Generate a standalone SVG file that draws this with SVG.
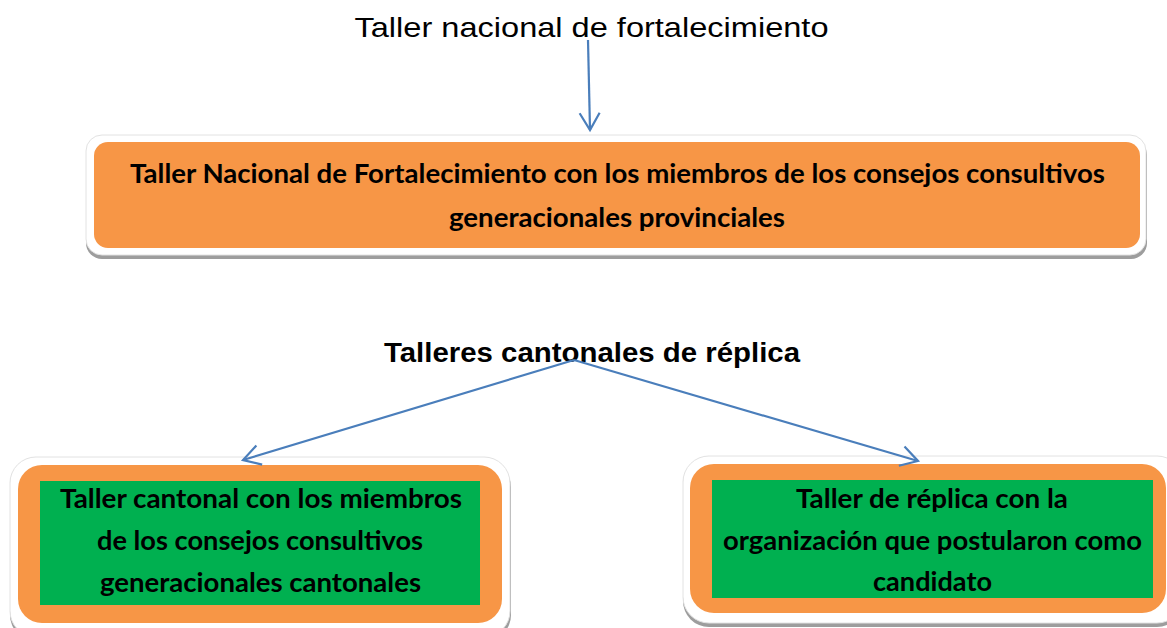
<svg xmlns="http://www.w3.org/2000/svg" width="1167" height="628" viewBox="0 0 1167 628">
<style>
.title{font-family:"Liberation Sans",Arial,sans-serif;font-size:27.5px;fill:#000;text-anchor:middle}
.bt{font-family:Lato,"Open Sans",sans-serif;font-weight:700;font-size:27.5px;fill:#000;text-anchor:middle}
.shadow{fill:#9d9d9d}
.frame{fill:#fff;stroke:#e2e2e2;stroke-width:1}
.orange{fill:#f79646}
.green{fill:#00b050}
.conn{stroke:#4a7ebb;stroke-width:2.2;fill:none}
</style>
<defs>
<marker id="chev" markerUnits="userSpaceOnUse" markerWidth="30" markerHeight="30" viewBox="-20 -15 30 30" refX="0" refY="0" orient="auto">
<path d="M-17,-10 L0,0 L-17,10" fill="none" stroke="#4a7ebb" stroke-width="2.2"/>
</marker>
</defs>
<rect width="1167" height="628" fill="#fff"/>
<g id="title-nacional">
<text class="title" x="591.5" y="37" textLength="474" lengthAdjust="spacingAndGlyphs">Taller nacional de fortalecimiento</text>
</g>
<g id="node-nacional">
<rect class="shadow" x="86" y="139" width="1061" height="120" rx="16"/>
<rect class="frame" x="86" y="135" width="1060" height="120" rx="16"/>
<rect class="orange" x="94" y="142" width="1046" height="106" rx="14"/>
<text class="bt" x="617.5" y="183" textLength="975" lengthAdjust="spacingAndGlyphs">Taller Nacional de Fortalecimiento con los miembros de los consejos consultivos</text>
<text class="bt" x="617" y="227" textLength="336" lengthAdjust="spacingAndGlyphs">generacionales provinciales</text>
</g>
<g id="title-cantonales">
<text class="title" x="592" y="362" font-weight="700" textLength="416" lengthAdjust="spacingAndGlyphs">Talleres cantonales de réplica</text>
</g>
<g id="node-cantonal">
<rect class="shadow" x="10" y="461" width="501" height="180" rx="26"/>
<rect class="frame" x="10" y="457" width="500" height="180" rx="26"/>
<rect class="orange" x="18" y="465" width="484" height="158" rx="24"/>
<rect class="green" x="40" y="481" width="440" height="124"/>
<text class="bt" x="261" y="508" textLength="402" lengthAdjust="spacingAndGlyphs">Taller cantonal con los miembros</text>
<text class="bt" x="260" y="550" textLength="326" lengthAdjust="spacingAndGlyphs">de los consejos consultivos</text>
<text class="bt" x="260.5" y="592" textLength="321" lengthAdjust="spacingAndGlyphs">generacionales cantonales</text>
</g>
<g id="node-replica">
<rect class="shadow" x="683" y="460" width="500" height="167" rx="26"/>
<rect class="frame" x="683" y="456" width="500" height="167" rx="26"/>
<rect class="orange" x="690" y="464" width="476" height="149" rx="24"/>
<rect class="green" x="712" y="480" width="441" height="118"/>
<text class="bt" x="932" y="508" textLength="272" lengthAdjust="spacingAndGlyphs">Taller de réplica con la</text>
<text class="bt" x="932.5" y="550" textLength="419" lengthAdjust="spacingAndGlyphs">organización que postularon como</text>
<text class="bt" x="932.5" y="591" textLength="119" lengthAdjust="spacingAndGlyphs">candidato</text>
</g>
<g id="connectors">
<line class="conn" x1="588" y1="40" x2="590" y2="130" marker-end="url(#chev)"/>
<line class="conn" x1="574" y1="360" x2="243" y2="460" marker-end="url(#chev)"/>
<line class="conn" x1="574" y1="360" x2="918" y2="461" marker-end="url(#chev)"/>
</g>
</svg>
